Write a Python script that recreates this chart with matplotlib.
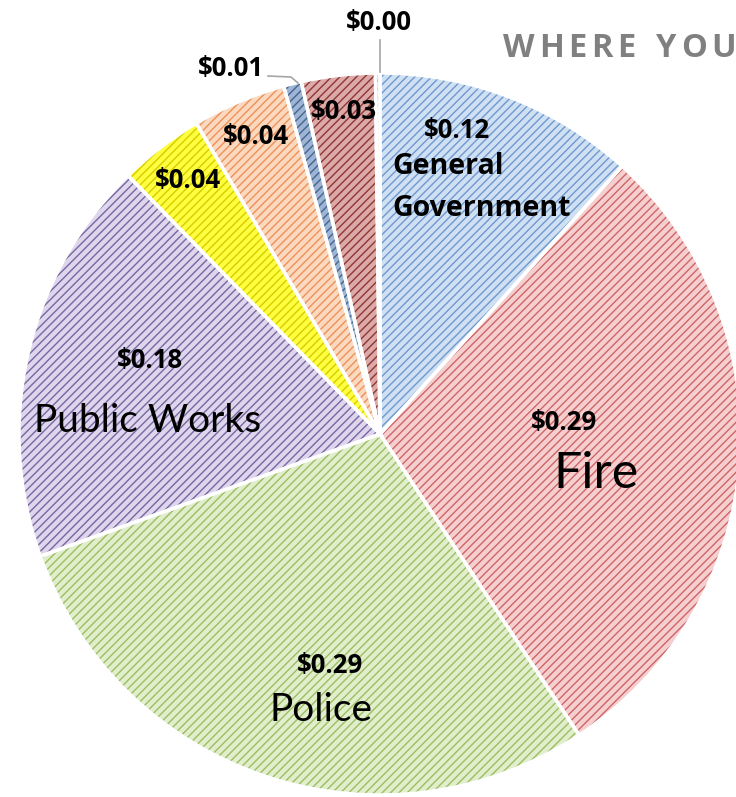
import matplotlib
matplotlib.use("Agg")
import matplotlib.pyplot as plt

# ---- data ----
categories = ["General Government", "Fire", "Police", "Public Works",
              "Other A", "Other B", "Other C", "Other D", "Other E"]
values = [0.117, 0.290, 0.288, 0.182, 0.038, 0.042, 0.008, 0.033, 0.002]
value_labels = ["$0.12", "$0.29", "$0.29", "$0.18", "$0.04", "$0.04", "$0.01", "$0.03", "$0.00"]
face_colors = ["#cfe0f3", "#f5cfcf", "#e0eecb", "#ddd6ec", "#ffff40",
               "#fbd9bf", "#9db4d4", "#dba9a7", "#c8c8c8"]
hatch_colors = ["#6f98cf", "#cf6464", "#9dbd62", "#7a66a0", "#d6cc00",
                "#ee9058", "#45648f", "#8f3634", "#7a7a7a"]
title = "WHERE YOUR"

W, H = 736, 797
plt.rcParams['hatch.linewidth'] = 1.0
fig = plt.figure(figsize=(W / 100, H / 100), dpi=100)
ax = fig.add_axes([0, 0, 1, 1])

cx, cy, R = 380, H - 434, 361

common = dict(startangle=90, counterclock=False, center=(cx, cy), radius=R, frame=True)
# base fills
ax.pie(values, colors=face_colors, wedgeprops=dict(linewidth=0), **common)
# hatching
wedges, _ = ax.pie(values, colors=["none"] * len(values),
                   wedgeprops=dict(linewidth=0), **common)
for w, hc in zip(wedges, hatch_colors):
    w.set_facecolor("none")
    w.set_edgecolor(hc)
    w.set_hatch("////")
    w.set_linewidth(0)
# white separators
ax.pie(values, colors=["none"] * len(values),
       wedgeprops=dict(linewidth=2.5, edgecolor="white", facecolor="none"), **common)

ax.set_xlim(0, W)
ax.set_ylim(0, H)
ax.set_aspect("auto")
ax.axis("off")

BOLD = ["Open Sans", "DejaVu Sans"]
REG = ["Lato", "DejaVu Sans"]

def t(x, y, s, size, bold=True, ha="center", color="black"):
    ax.text(x, H - y, s, fontsize=size, fontweight="bold" if bold else "normal",
            ha=ha, va="center", color=color, family=BOLD if bold else REG)

VS = 18.5
# value labels
t(457, 130, value_labels[0], VS)
t(392, 166, "General", 20.5, ha="left")
t(392, 208, "Government", 20.5, ha="left")
t(564, 422, value_labels[1], VS)
t(596, 474, "Fire", 36, bold=False)
t(330, 665, value_labels[2], VS)
t(321, 710, "Police", 28, bold=False)
t(150, 360, value_labels[3], VS)
t(148, 421, "Public Works", 28, bold=False)
t(188, 180, value_labels[4], VS)
t(256, 136, value_labels[5], VS)
t(231, 68, value_labels[6], VS)
t(344, 111, value_labels[7], VS)
t(379, 22, value_labels[8], VS)

# leader lines
ax.plot([380, 380], [H - 40, H - 72], color="#a6a6a6", lw=1.2)
ax.plot([268, 291, 298], [H - 76, H - 77, H - 83], color="#a6a6a6", lw=1.2)

# title with letter spacing (clipped at right edge)
renderer = fig.canvas.get_renderer()
x = 503
for ch in title:
    if ch == " ":
        x += 16
        continue
    tt = ax.text(x, H - 48, ch, fontsize=23.5, fontweight="bold", color="#808080",
                 family=["Open Sans", "DejaVu Sans"], ha="left", va="center")
    bb = tt.get_window_extent(renderer=renderer)
    x += bb.width + 4.5

fig.savefig("out.png", dpi=100)
